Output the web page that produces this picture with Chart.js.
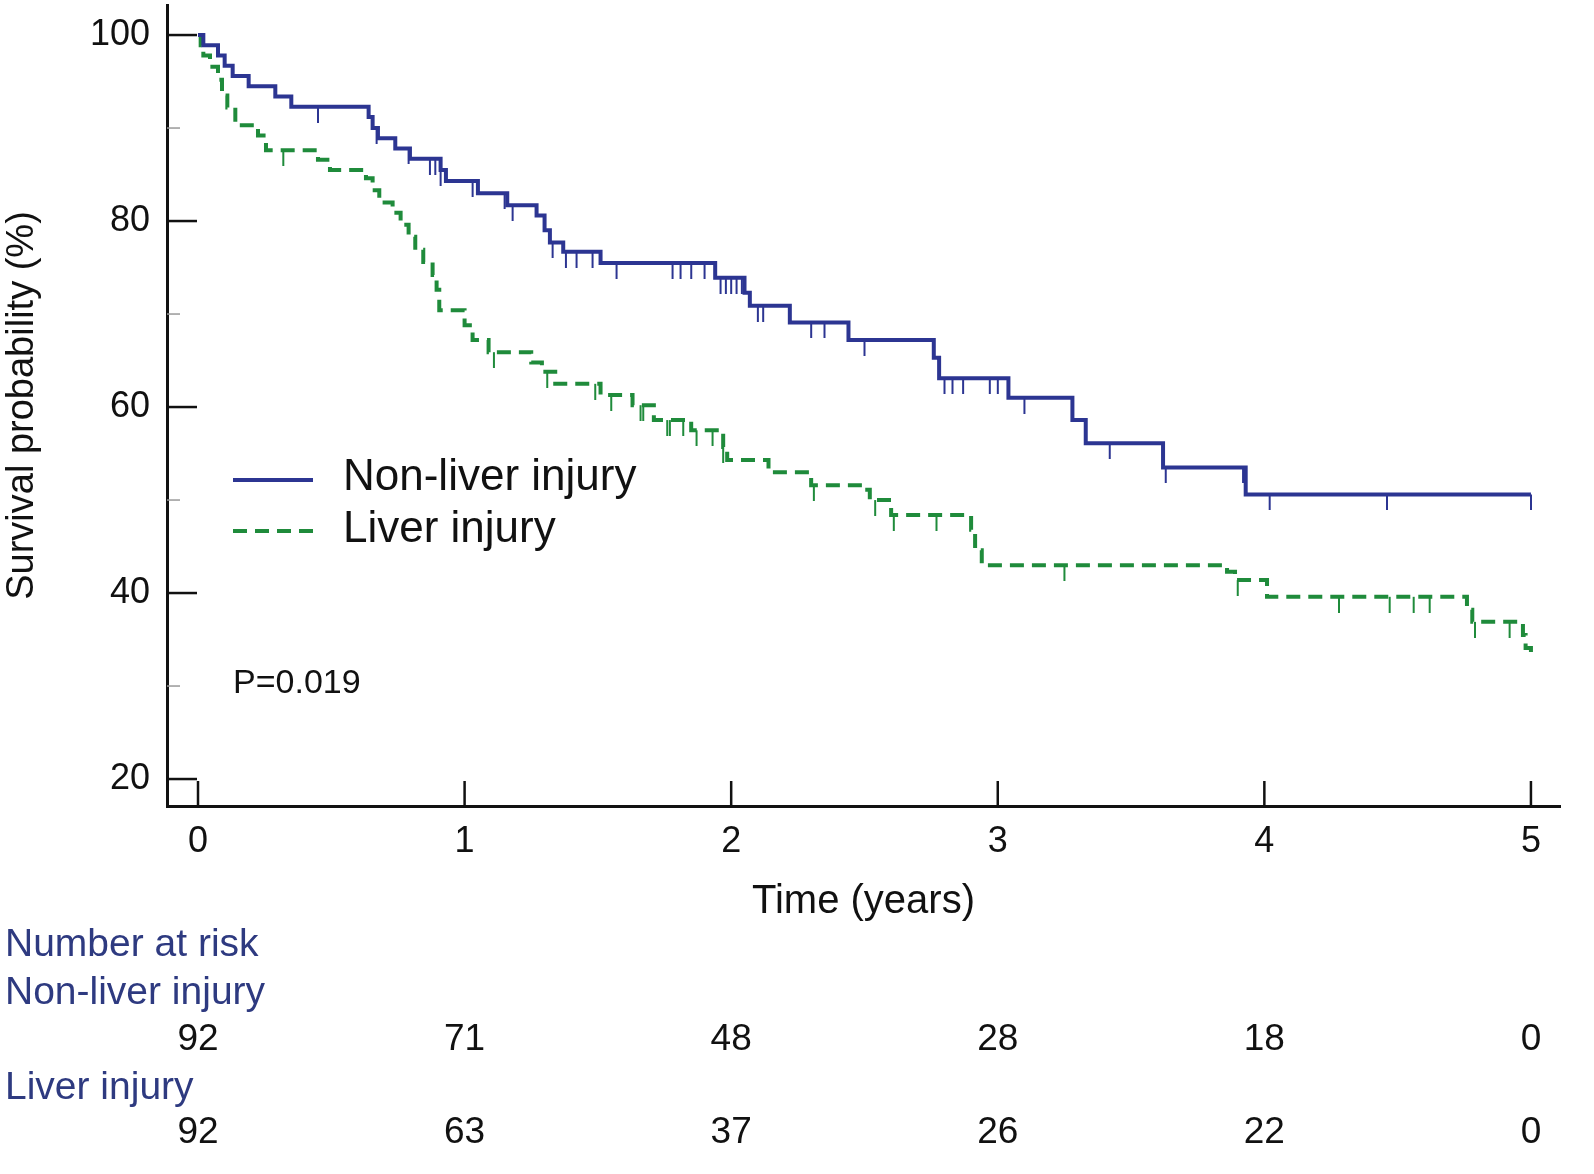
<!DOCTYPE html>
<html>
<head>
<meta charset="utf-8">
<title>Survival curves</title>
<script src="https://cdn.jsdelivr.net/npm/chart.js@4.4.0/dist/chart.umd.min.js"></script>
<style>
  html, body { margin: 0; padding: 0; background: #fff; }
  #wrap { width: 1594px; height: 1174px; }
</style>
</head>
<body>
<div id="wrap"><canvas id="chart" width="1594" height="1174"></canvas></div>
<script>
// step times (years) and survival (%)
const nonLiverTime = [0, 0.02, 0.075, 0.10, 0.13, 0.19, 0.29, 0.35, 0.64, 0.655, 0.675, 0.74, 0.795, 0.91, 0.93, 1.05, 1.16, 1.27, 1.30, 1.32, 1.37, 1.51, 1.94, 2.05, 2.07, 2.22, 2.44, 2.76, 2.78, 3.04, 3.28, 3.33, 3.62, 3.93, 5.0];
const nonLiverSurv = [100, 98.9, 97.8, 96.7, 95.6, 94.5, 93.4, 92.3, 91.2, 90.0, 88.9, 87.8, 86.7, 85.5, 84.3, 83.0, 81.7, 80.6, 79.0, 77.7, 76.7, 75.5, 73.9, 72.3, 70.9, 69.1, 67.2, 65.3, 63.1, 61.0, 58.6, 56.1, 53.5, 50.6, 50.6];
const nonLiverCensor = [0.45, 0.67, 0.79, 0.87, 0.89, 0.91, 1.03, 1.15, 1.18, 1.33, 1.38, 1.42, 1.48, 1.57, 1.78, 1.81, 1.85, 1.90, 1.96, 1.98, 2.00, 2.02, 2.04, 2.10, 2.12, 2.30, 2.35, 2.50, 2.80, 2.83, 2.87, 2.97, 3.00, 3.10, 3.42, 3.63, 3.92, 4.02, 4.46, 5.0];

const liverTime = [0, 0.01, 0.02, 0.045, 0.075, 0.09, 0.11, 0.14, 0.225, 0.255, 0.45, 0.495, 0.63, 0.655, 0.68, 0.73, 0.76, 0.79, 0.815, 0.845, 0.88, 0.895, 0.905, 1.00, 1.03, 1.09, 1.25, 1.29, 1.34, 1.51, 1.63, 1.71, 1.85, 1.97, 1.985, 2.14, 2.30, 2.50, 2.52, 2.60, 2.90, 2.915, 2.94, 3.86, 3.89, 4.01, 4.76, 4.78, 4.97, 4.98, 5.0];
const liverSurv = [100, 98.9, 97.8, 96.6, 95.2, 93.5, 92.2, 90.3, 89.2, 87.6, 86.6, 85.5, 84.6, 83.3, 82.0, 80.9, 79.6, 78.3, 76.9, 75.6, 74.2, 72.6, 70.4, 68.8, 67.2, 65.9, 64.8, 63.8, 62.5, 61.3, 60.2, 58.6, 57.5, 55.7, 54.3, 53.0, 51.6, 51.1, 50.0, 48.4, 46.8, 44.6, 43.0, 42.3, 41.4, 39.6, 38.2, 36.9, 35.5, 34.1, 32.8];
const liverCensor = [0.32, 1.11, 1.31, 1.49, 1.55, 1.66, 1.67, 1.76, 1.77, 1.82, 1.87, 1.93, 1.97, 2.31, 2.54, 2.61, 2.77, 3.25, 3.90, 4.28, 4.47, 4.56, 4.62, 4.79, 4.92];

const xTicks = [0, 1, 2, 3, 4, 5];
const yTicks = [20, 30, 40, 50, 60, 70, 80, 90, 100];
const riskNonLiver = [92, 71, 48, 28, 18, 0];
const riskLiver = [92, 63, 37, 26, 22, 0];

const blue = '#2c3592';
const green = '#1f8b3b';
const navy = '#2e3a80';
const font = '"Liberation Sans", Arial, sans-serif';

function survAt(times, surv, t) {
  let s = surv[0];
  for (let i = 0; i < times.length; i++) {
    if (times[i] <= t) s = surv[i];
  }
  return s;
}

// little canvas used as point style: a tick hanging down from the point
function tickMark(color) {
  const c = document.createElement('canvas');
  c.width = 4;
  c.height = 32;
  const g = c.getContext('2d');
  g.fillStyle = color;
  g.fillRect(1, 16, 2, 16);
  return c;
}

const extras = {
  id: 'extras',
  afterDraw(chart) {
    const ctx = chart.ctx;
    const x = chart.scales.x;
    const y = chart.scales.y;
    const left = chart.chartArea.left;
    const bottom = chart.chartArea.bottom;
    ctx.save();

    // inward tick marks
    yTicks.forEach(v => {
      const py = y.getPixelForValue(v);
      const major = v % 20 === 0;
      ctx.strokeStyle = major ? '#111' : '#999';
      ctx.lineWidth = major ? 2.5 : 1.5;
      ctx.beginPath();
      ctx.moveTo(left, py);
      ctx.lineTo(left + (major ? 30 : 13), py);
      ctx.stroke();
    });
    xTicks.forEach(v => {
      const px = x.getPixelForValue(v);
      ctx.strokeStyle = '#111';
      ctx.lineWidth = 2.5;
      ctx.beginPath();
      ctx.moveTo(px, bottom);
      ctx.lineTo(px, bottom - 25);
      ctx.stroke();
    });

    // legend
    ctx.lineWidth = 4;
    ctx.strokeStyle = blue;
    ctx.beginPath();
    ctx.moveTo(233, 480);
    ctx.lineTo(313, 480);
    ctx.stroke();
    ctx.strokeStyle = green;
    ctx.setLineDash([14, 8]);
    ctx.beginPath();
    ctx.moveTo(233, 531);
    ctx.lineTo(313, 531);
    ctx.stroke();
    ctx.setLineDash([]);

    ctx.fillStyle = '#111';
    ctx.textBaseline = 'middle';
    ctx.textAlign = 'left';
    ctx.font = '44px ' + font;
    ctx.fillText('Non-liver injury', 343, 478);
    ctx.fillText('Liver injury', 343, 530);
    ctx.font = '34px ' + font;
    ctx.fillText('P=0.019', 233, 684);

    // number at risk
    ctx.font = '39px ' + font;
    ctx.fillStyle = navy;
    ctx.fillText('Number at risk', 5, 945);
    ctx.fillText('Non-liver injury', 5, 993);
    ctx.fillText('Liver injury', 5, 1088);
    ctx.fillStyle = '#111';
    ctx.font = '37px ' + font;
    ctx.textAlign = 'center';
    xTicks.forEach((v, i) => {
      const px = x.getPixelForValue(v);
      ctx.fillText(String(riskNonLiver[i]), px, 1040);
      ctx.fillText(String(riskLiver[i]), px, 1133);
    });
    ctx.restore();
  }
};

const ctx = document.getElementById('chart').getContext('2d');

new Chart(ctx, {
  type: 'line',
  data: {
    datasets: [
      {
        label: 'Non-liver injury',
        data: nonLiverTime.map((t, i) => ({ x: t, y: nonLiverSurv[i] })),
        borderColor: blue,
        borderWidth: 4,
        stepped: true,
        pointRadius: 0,
        fill: false
      },
      {
        label: 'Liver injury',
        data: liverTime.map((t, i) => ({ x: t, y: liverSurv[i] })),
        borderColor: green,
        borderWidth: 4,
        borderDash: [14, 8],
        stepped: true,
        pointRadius: 0,
        fill: false
      },
      {
        label: 'Non-liver censored',
        type: 'scatter',
        data: nonLiverCensor.map(t => ({ x: t, y: survAt(nonLiverTime, nonLiverSurv, t) })),
        pointStyle: tickMark(blue),
        pointRadius: 3,
        showLine: false
      },
      {
        label: 'Liver censored',
        type: 'scatter',
        data: liverCensor.map(t => ({ x: t, y: survAt(liverTime, liverSurv, t) })),
        pointStyle: tickMark(green),
        pointRadius: 3,
        showLine: false
      }
    ]
  },
  options: {
    responsive: false,
    animation: false,
    layout: { padding: { top: 5, right: 34, bottom: 248, left: 0 } },
    plugins: {
      legend: { display: false },
      tooltip: { enabled: false }
    },
    scales: {
      x: {
        type: 'linear',
        min: -0.1163,
        max: 5.109,
        afterBuildTicks: s => { s.ticks = xTicks.map(v => ({ value: v })); },
        afterFit: s => { s.height = 120; s.paddingLeft = 0; s.paddingRight = 0; },
        grid: { display: false, drawTicks: false },
        border: { display: true, color: '#111', width: 3 },
        ticks: { font: { family: font, size: 36 }, color: '#111', padding: 14, maxRotation: 0 },
        title: {
          display: true,
          text: 'Time (years)',
          font: { family: font, size: 40 },
          color: '#111',
          padding: { top: 0, bottom: 0 }
        }
      },
      y: {
        type: 'linear',
        min: 17.1,
        max: 103.23,
        afterBuildTicks: s => { s.ticks = yTicks.map(v => ({ value: v })); },
        afterFit: s => { s.width = 167; s.paddingTop = 0; s.paddingBottom = 0; },
        grid: { display: false, drawTicks: false },
        border: { display: true, color: '#111', width: 3 },
        ticks: {
          font: { family: font, size: 36 },
          color: '#111',
          padding: 17,
          callback: v => (v % 20 === 0 ? String(v) : '')
        },
        title: {
          display: true,
          text: 'Survival probability (%)',
          font: { family: font, size: 38 },
          color: '#111',
          padding: { top: 0, bottom: 0 }
        }
      }
    }
  },
  plugins: [extras]
});
</script>
</body>
</html>
